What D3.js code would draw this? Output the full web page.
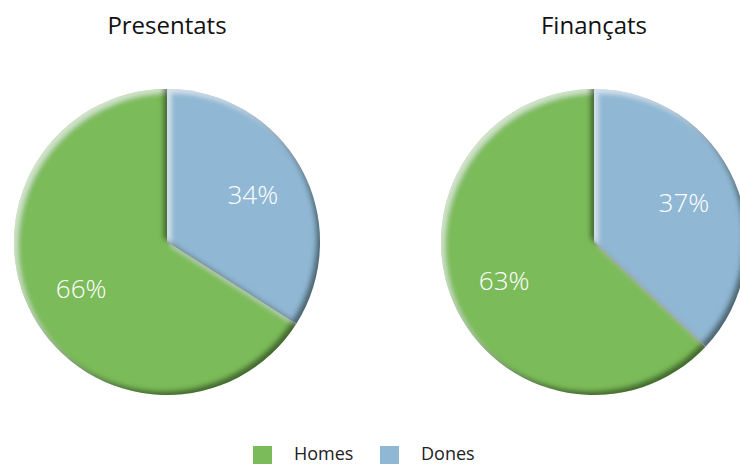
<!DOCTYPE html>
<html>
<head>
<meta charset="utf-8">
<script src="https://cdn.jsdelivr.net/npm/d3@7.9.0/dist/d3.min.js"></script>
<style>
  html, body { margin: 0; padding: 0; background: #fff; overflow: hidden; }
  svg { display: block; font-family: 'Open Sans', sans-serif; }
</style>
</head>
<body>
<svg id="chart" width="740" height="464"></svg>
<script>
const categories = ['Homes', 'Dones'];
const colors = ['#7bbb5a', '#90b8d4'];
const charts = ['Presentats', 'Finançats'];
const presentats = [66, 34];
const financats = [63, 37];
const seriesValues = [presentats, financats];

const svg = d3.select('#chart');
const radius = 153;
const centers = d3.scalePoint().domain(charts).range([167, 594]);

// bevel: light from top-left, shade bottom-right
const defs = svg.append('defs');
const f = defs.append('filter').attr('id', 'bevel')
  .attr('x', '-10%').attr('y', '-10%').attr('width', '120%').attr('height', '120%');
f.append('feGaussianBlur').attr('in', 'SourceAlpha').attr('stdDeviation', 2.5).attr('result', 'blur');
f.append('feOffset').attr('in', 'blur').attr('dx', -4).attr('dy', -4).attr('result', 'offDark');
f.append('feComposite').attr('in', 'SourceAlpha').attr('in2', 'offDark').attr('operator', 'out').attr('result', 'darkMask');
f.append('feFlood').attr('flood-color', '#1a2a10').attr('flood-opacity', 0.75).attr('result', 'darkCol');
f.append('feComposite').attr('in', 'darkCol').attr('in2', 'darkMask').attr('operator', 'in').attr('result', 'dark');
f.append('feOffset').attr('in', 'blur').attr('dx', 4).attr('dy', 4).attr('result', 'offLight');
f.append('feComposite').attr('in', 'SourceAlpha').attr('in2', 'offLight').attr('operator', 'out').attr('result', 'lightMask');
f.append('feFlood').attr('flood-color', '#ffffff').attr('flood-opacity', 0.55).attr('result', 'lightCol');
f.append('feComposite').attr('in', 'lightCol').attr('in2', 'lightMask').attr('operator', 'in').attr('result', 'light');
const m = f.append('feMerge');
m.append('feMergeNode').attr('in', 'SourceGraphic');
m.append('feMergeNode').attr('in', 'light');
m.append('feMergeNode').attr('in', 'dark');

const pie = d3.pie().sort(null).value((d) => d.value);
const arcGen = d3.arc().innerRadius(0).outerRadius(radius);
const labelArc = d3.arc().innerRadius(radius * 0.64).outerRadius(radius * 0.64);

charts.forEach((name, ci) => {
  const cx = centers(name);
  const g = svg.append('g').attr('transform', `translate(${cx},242)`);
  // Dones starts at 12 o'clock, Homes follows
  const data = categories.map((c, i) => ({ cat: c, value: seriesValues[ci][i], color: colors[i] })).reverse();
  const arcs = pie(data);
  g.selectAll('path').data(arcs).join('path')
    .attr('d', arcGen)
    .attr('fill', (d) => d.data.color)
    .attr('filter', 'url(#bevel)');
  g.selectAll('text.lbl').data(arcs).join('text')
    .attr('class', 'lbl')
    .attr('transform', (d) => `translate(${labelArc.centroid(d)})`)
    .attr('text-anchor', 'middle')
    .attr('dy', '0.35em')
    .attr('fill', '#fff')
    .style('font-size', '26px')
    .style('font-weight', 300)
    .text((d) => `${d.data.value}%`);
  svg.append('text')
    .attr('x', cx).attr('y', 34)
    .attr('text-anchor', 'middle')
    .attr('fill', '#111')
    .style('font-size', '24px')
    .text(name);
});

// legend
const legend = svg.append('g').attr('transform', 'translate(253,446)');
const lx = d3.scaleOrdinal().domain(categories).range([0, 127]);
categories.forEach((c, i) => {
  legend.append('rect').attr('x', lx(c)).attr('y', 0).attr('width', 19).attr('height', 18).attr('fill', colors[i]);
  legend.append('text').attr('x', lx(c) + 41).attr('y', 14)
    .attr('fill', '#222').style('font-size', '18px').text(c);
});
</script>
</body>
</html>
